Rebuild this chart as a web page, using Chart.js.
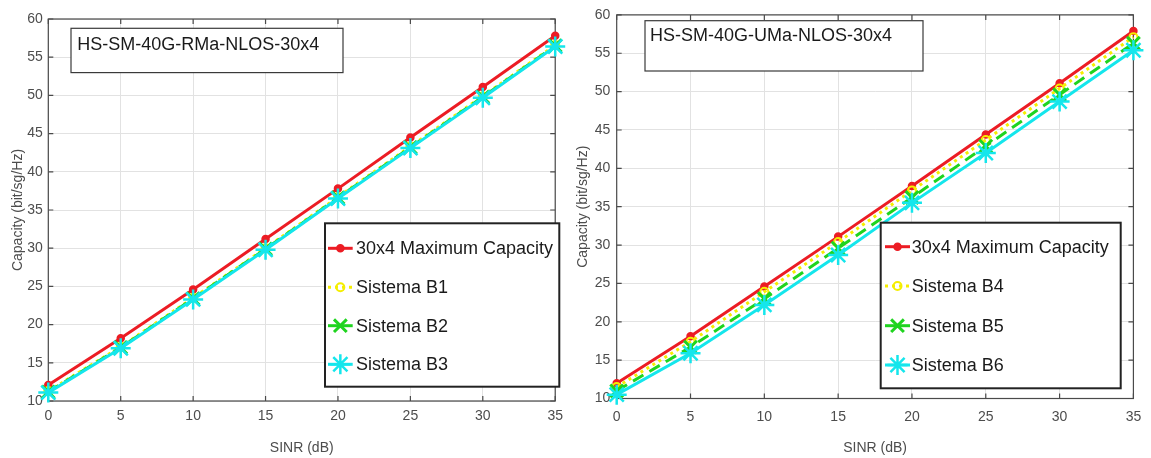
<!DOCTYPE html>
<html><head><meta charset="utf-8">
<script src="https://cdn.jsdelivr.net/npm/chart.js@4.4.1/dist/chart.umd.min.js"></script>
<style>
html,body{margin:0;padding:0;background:#fff;overflow:hidden;width:1151px;height:458px;position:relative;}
#c1{position:absolute;left:0;top:0;}
#c2{position:absolute;left:570px;top:0;}
</style></head><body>
<canvas id="c1" width="570" height="470"></canvas>
<canvas id="c2" width="581" height="470"></canvas>
<script>
// ---- data ----
const sinr = [0, 5, 10, 15, 20, 25, 30, 35];
const xTicks = [0, 5, 10, 15, 20, 25, 30, 35];
const yTicks = [10, 15, 20, 25, 30, 35, 40, 45, 50, 55, 60];

const titleRMa = 'HS-SM-40G-RMa-NLOS-30x4';
const titleUMa = 'HS-SM-40G-UMa-NLOS-30x4';
const xTitle = 'SINR (dB)';
const yTitle = 'Capacity (bit/sg/Hz)';

const labelsRMa = ['30x4 Maximum Capacity', 'Sistema B1', 'Sistema B2', 'Sistema B3'];
const maxCapRMa = [12.1, 18.2, 24.6, 31.2, 37.8, 44.5, 51.1, 57.8];
const sistemaB1 = [11.3, 17.1, 23.5, 30.0, 36.7, 43.3, 49.9, 56.6];
const sistemaB2 = [11.2, 17.0, 23.4, 29.9, 36.6, 43.2, 49.8, 56.5];
const sistemaB3 = [11.1, 16.9, 23.3, 29.8, 36.5, 43.1, 49.7, 56.4];

const labelsUMa = ['30x4 Maximum Capacity', 'Sistema B4', 'Sistema B5', 'Sistema B6'];
const maxCapUMa = [12.0, 18.1, 24.6, 31.1, 37.7, 44.4, 51.1, 57.9];
const sistemaB4 = [11.5, 17.4, 23.9, 30.4, 37.1, 43.7, 50.4, 57.1];
const sistemaB5 = [11.0, 16.7, 23.0, 29.6, 36.2, 42.9, 49.6, 56.3];
const sistemaB6 = [10.5, 15.9, 22.2, 28.7, 35.5, 42.0, 48.7, 55.4];

// ---- styles ----
const FONT = '"Liberation Sans", Arial, Helvetica, sans-serif';
const styles = [
  {color:'#ec1c24', fill:'#ec1c24', lw:3, dash:[], marker:'circle', r:3.5, mlw:1.5, order:3},
  {color:'#f5ee00', fill:'rgba(255,255,255,0)', lw:3, dash:[3,4], marker:'circle', r:4, mlw:2, order:2},
  {color:'#1fd41f', fill:'#1fd41f', lw:3, dash:[12,7], marker:'crossRot', r:9, mlw:3, order:1},
  {color:'#14e6ec', fill:'#14e6ec', lw:3, dash:[], marker:'star', r:10, mlw:2.5, order:0}
];

function drawMarker(ctx, st, x, y) {
  ctx.save();
  ctx.setLineDash([]);
  ctx.strokeStyle = st.color;
  ctx.lineWidth = st.mlw;
  ctx.beginPath();
  if (st.marker === 'circle') {
    ctx.arc(x, y, st.r, 0, Math.PI * 2);
    ctx.fillStyle = st.fill; ctx.fill(); ctx.stroke();
  } else {
    const r = st.r, d = r * Math.SQRT1_2;
    if (st.marker === 'star') {
      ctx.moveTo(x - r, y); ctx.lineTo(x + r, y);
      ctx.moveTo(x, y - r); ctx.lineTo(x, y + r);
    }
    ctx.moveTo(x - d, y - d); ctx.lineTo(x + d, y + d);
    ctx.moveTo(x - d, y + d); ctx.lineTo(x + d, y - d);
    ctx.stroke();
  }
  ctx.restore();
}

const matlabPlugin = {
  id: 'matlab',
  beforeDatasetsDraw(chart) {
    const {ctx, chartArea: a, scales} = chart;
    ctx.save();
    ctx.strokeStyle = '#4a4a4a';
    ctx.lineWidth = 1.2;
    ctx.strokeRect(a.left, a.top, a.right - a.left, a.bottom - a.top);
    ctx.beginPath();
    xTicks.forEach(v => {
      const p = scales.x.getPixelForValue(v);
      ctx.moveTo(p, a.bottom); ctx.lineTo(p, a.bottom - 5);
      ctx.moveTo(p, a.top); ctx.lineTo(p, a.top + 5);
    });
    yTicks.forEach(v => {
      const p = scales.y.getPixelForValue(v);
      ctx.moveTo(a.left, p); ctx.lineTo(a.left + 5, p);
      ctx.moveTo(a.right, p); ctx.lineTo(a.right - 5, p);
    });
    ctx.stroke();
    ctx.restore();
  },
  afterDatasetsDraw(chart) {
    const cfg = chart.options.plugins.matlab;
    const ctx = chart.ctx;
    ctx.save();
    // title box
    const tb = cfg.titleBox;
    ctx.fillStyle = '#fff';
    ctx.fillRect(tb.x, tb.y, tb.w, tb.h);
    ctx.strokeStyle = '#3a3a3a'; ctx.lineWidth = 1.2;
    ctx.strokeRect(tb.x, tb.y, tb.w, tb.h);
    ctx.fillStyle = '#1a1a1a';
    ctx.font = '18px ' + FONT;
    ctx.textBaseline = 'middle'; ctx.textAlign = 'left';
    ctx.fillText(cfg.title, tb.tx, tb.ty);
    // legend
    const lg = cfg.legend;
    ctx.fillStyle = '#fff';
    ctx.fillRect(lg.x, lg.y, lg.w, lg.h);
    ctx.strokeStyle = '#222'; ctx.lineWidth = 2;
    ctx.strokeRect(lg.x, lg.y, lg.w, lg.h);
    cfg.labels.forEach((lab, i) => {
      const st = styles[i];
      const y = lg.rows[i];
      ctx.save();
      ctx.strokeStyle = st.color; ctx.lineWidth = st.lw;
      ctx.setLineDash(st.dash.length ? [3, 4] : []);
      if (i === 2) ctx.setLineDash([]);
      ctx.beginPath(); ctx.moveTo(lg.x1, y); ctx.lineTo(lg.x2, y); ctx.stroke();
      ctx.restore();
      drawMarker(ctx, st, (lg.x1 + lg.x2) / 2, y);
      ctx.fillStyle = '#1a1a1a';
      ctx.font = '18px ' + FONT;
      ctx.textBaseline = 'middle';
      ctx.fillText(lab, lg.tx, y + 1);
    });
    ctx.restore();
  }
};

function makeChart(id, labels, series, c) {
  const canvas = document.getElementById(id);
  const W = canvas.width, H = canvas.height;
  const datasets = series.map((vals, i) => {
    const st = styles[i];
    return {
      label: labels[i],
      data: sinr.map((x, j) => ({x: x, y: vals[j]})),
      borderColor: st.color, backgroundColor: st.fill,
      borderWidth: st.lw, borderDash: st.dash,
      pointStyle: st.marker, pointRadius: st.r, pointBorderWidth: st.mlw,
      pointBorderColor: st.color, pointBackgroundColor: st.fill,
      order: st.order, clip: false, tension: 0, fill: false
    };
  });
  return new Chart(canvas, {
    type: 'line',
    data: {datasets},
    options: {
      responsive: false, animation: false, devicePixelRatio: 1,
      layout: {padding: {left: 0, right: W - c.area.right, top: c.area.top, bottom: 0}},
      plugins: {
        legend: {display: false}, tooltip: {enabled: false},
        matlab: {title: c.title, titleBox: c.titleBox, legend: c.legend, labels: labels}
      },
      scales: {
        x: {
          type: 'linear', min: 0, max: 35,
          afterBuildTicks: s => { s.ticks = xTicks.map(v => ({value: v})); },
          afterFit: s => { s.height = H - c.area.bottom; },
          grid: {color: '#e2e2e2', drawTicks: false, lineWidth: 1},
          border: {display: false},
          ticks: {padding: c.xtickPad, color: '#4d4d4d', font: {family: FONT, size: 14}, maxRotation: 0, autoSkip: false},
          title: {display: true, text: xTitle, color: '#4d4d4d', font: {family: FONT, size: 14}, padding: {top: 0, bottom: c.xtitlePad}}
        },
        y: {
          type: 'linear', min: 10, max: 60,
          afterBuildTicks: s => { s.ticks = yTicks.map(v => ({value: v})); },
          afterFit: s => { s.width = c.area.left; },
          grid: {color: '#e2e2e2', drawTicks: false, lineWidth: 1},
          border: {display: false},
          ticks: {padding: c.ytickPad, color: '#4d4d4d', font: {family: FONT, size: 14}, autoSkip: false},
          title: {display: true, text: yTitle, color: '#4d4d4d', font: {family: FONT, size: 14}, padding: {top: c.ytitlePad, bottom: 0}}
        }
      }
    },
    plugins: [matlabPlugin]
  });
}

makeChart('c1', labelsRMa, [maxCapRMa, sistemaB1, sistemaB2, sistemaB3], {
  title: titleRMa,
  area: {left: 48.3, right: 558.5, top: 19, bottom: 401},
  xtickPad: 7, ytickPad: 5.5, ytitlePad: 9.6, xtitlePad: 13.6,
  titleBox: {x: 71, y: 28.3, w: 272, h: 44.3, tx: 77.3, ty: 45},
  legend: {x: 325, y: 223.3, w: 234.3, h: 163.4, x1: 328, x2: 352.7, tx: 356, rows: [248.3, 287.3, 325.7, 364.3]}
});
makeChart('c2', labelsUMa, [maxCapUMa, sistemaB4, sistemaB5, sistemaB6], {
  title: titleUMa,
  area: {left: 46.7, right: 566, top: 10.7, bottom: 398.5},
  xtickPad: 9.8, ytickPad: 6.5, ytitlePad: 4.6, xtitlePad: 13.6,
  titleBox: {x: 75, y: 20.7, w: 278, h: 50.3, tx: 80, ty: 36},
  legend: {x: 310.7, y: 222.7, w: 240, h: 165.6, x1: 315, x2: 340, tx: 341.7, rows: [246.7, 286, 325.7, 365]}
});
</script>
</body></html>
